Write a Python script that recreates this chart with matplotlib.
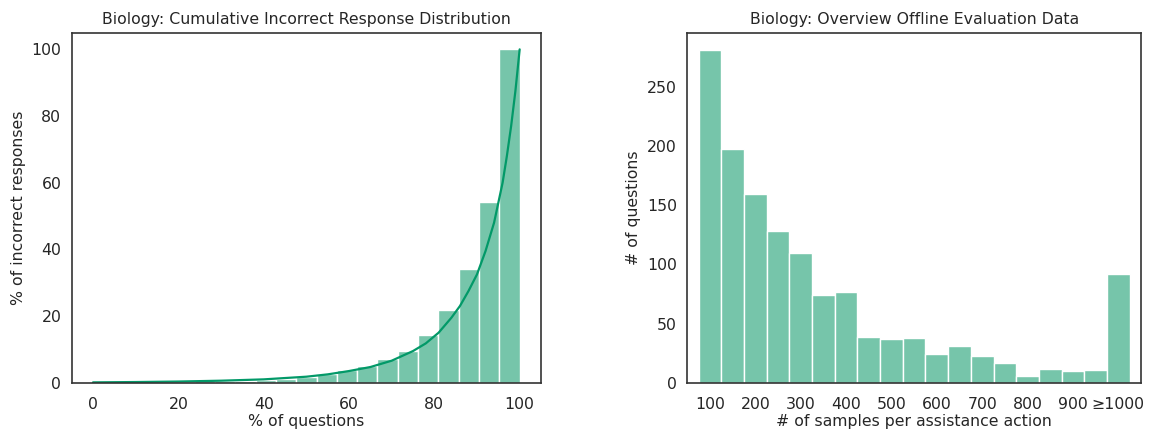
import numpy as np
import matplotlib
matplotlib.use("Agg")
import matplotlib.pyplot as plt
import seaborn as sns

# left: cumulative incorrect response distribution (21 bins over 0..100)
cum_bin_heights = [0.1, 0.15, 0.2, 0.25, 0.3, 0.4, 0.5, 0.6, 0.8, 1.2, 1.7,
                   2.6, 3.8, 5.1, 7.0, 9.6, 14.4, 21.7, 34.2, 54.2, 100]
curve_x = [0, 10, 20, 30, 40, 50, 55, 60, 65, 70, 75, 78, 81, 84, 86, 88, 90,
           92, 94, 95, 96, 97, 98, 99, 100]
curve_y = [0.1, 0.2, 0.35, 0.6, 1.0, 1.8, 2.5, 3.5, 4.7, 6.6, 9.5, 11.8, 15, 19.5,
           23, 27.5, 32.5, 39.5, 48, 54, 60, 68, 77, 87.5, 100]

# right: number of questions per samples-per-action bin (width 50)
sample_centers = [100, 150, 200, 250, 300, 350, 400, 450, 500, 550, 600, 650,
                  700, 750, 800, 850, 900, 950, 1000]
question_counts = [281, 198, 160, 128, 110, 74, 77, 39, 37, 38, 24, 31,
                   23, 17, 6, 12, 10, 11, 92]
tick_vals = [100, 200, 300, 400, 500, 600, 700, 800, 900, 1000]
tick_labels = ['100', '200', '300', '400', '500', '600', '700', '800', '900', '≥1000']

sns.set_style("white")
plt.rcParams['font.family'] = ['DejaVu Sans']
plt.rcParams['font.size'] = 11.3

bar_c = '#76c5aa'
line_c = '#029968'

fig = plt.figure(figsize=(11.61, 4.29), dpi=100)
ax1 = fig.add_axes([71.7/1161, 1 - 382.7/429, (541 - 71.7)/1161, (382.7 - 32.7)/429])
ax2 = fig.add_axes([687.3/1161, 1 - 382.7/429, (1141 - 687.3)/1161, (382.7 - 32.7)/429])

edges = np.linspace(0, 100, len(cum_bin_heights) + 1)
ax1.bar(edges[:-1], cum_bin_heights, width=np.diff(edges), align='edge',
        color=bar_c, edgecolor='white', linewidth=1)
ax1.plot(curve_x, curve_y, color=line_c, lw=1.6)
ax1.set_xlim(-5, 105)
ax1.set_ylim(0, 105)
ax1.set_title('Biology: Cumulative Incorrect Response Distribution', fontsize=11.3, color='#262626')
ax1.set_xlabel('% of questions', labelpad=2)
ax1.set_ylabel('% of incorrect responses')

ax2.bar(sample_centers, question_counts, width=50, color=bar_c, edgecolor='white', linewidth=1)
ax2.set_xlim(50, 1050)
ax2.set_ylim(0, 296)
ax2.set_xticks(tick_vals)
ax2.set_xticklabels(tick_labels)
ax2.set_title('Biology: Overview Offline Evaluation Data', fontsize=11.3, color='#262626')
ax2.set_xlabel('# of samples per assistance action', labelpad=2)
ax2.set_ylabel('# of questions')

for ax in (ax1, ax2):
    ax.tick_params(axis='x', length=0, pad=10, colors='#262626')
    ax.tick_params(axis='y', length=0, pad=7.5, colors='#262626')
    for s in ax.spines.values():
        s.set_color('#333333')
        s.set_linewidth(1.2)

fig.savefig('out.png', dpi=100)
